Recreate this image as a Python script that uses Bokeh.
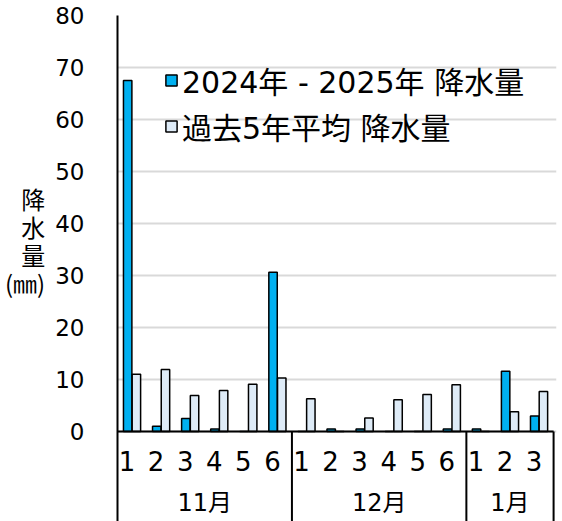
from bokeh.plotting import figure
from bokeh.models import Range1d, FixedTicker, Legend, LegendItem, ColumnDataSource
from bokeh.core.properties import value
from bokeh.transform import dodge
from bokeh.embed import file_html
from bokeh.resources import INLINE

# ---- data ----
months = ["11月", "12月", "1月"]
month_days = [6, 6, 3]
days = ["1", "2", "3", "4", "5", "6", "1", "2", "3", "4", "5", "6", "1", "2", "3"]
rain_2024 = [67.5, 1.0, 2.5, 0.5, 0.0, 30.6, 0.0, 0.5, 0.5, 0.0, 0.0, 0.5, 0.5, 11.6, 3.0]
avg_5yr = [11.0, 11.9, 6.9, 7.9, 9.1, 10.3, 6.3, 0.0, 2.6, 6.1, 7.1, 9.0, 0.0, 3.8, 7.7]
y_ticks = [0, 10, 20, 30, 40, 50, 60, 70, 80]
series_names = ["2024年 - 2025年 降水量", "過去5年平均 降水量"]
y_title = "降\n水\n量\n(㎜)\n \n "

CJK = "Noto Sans CJK JP"
FONT = "DejaVu Sans, Noto Sans CJK JP"
BLUE = "#00B0F0"
LIGHT = "#DEEBF7"

n = len(days)
xs = [i + 0.5 for i in range(n)]
src = ColumnDataSource(dict(x=xs, rain=rain_2024, avg=avg_5yr))

y_top = 80
y_bottom = -17.31

p = figure(width=562, height=521, output_backend="svg", toolbar_location=None,
           x_range=Range1d(0, n + 0.1), y_range=Range1d(y_bottom, y_top),
           x_axis_location=None,
           min_border_left=117, min_border_right=6, min_border_top=15, min_border_bottom=0)
p.outline_line_color = None
p.background_fill_color = "white"
p.border_fill_color = "white"
p.xgrid.grid_line_color = None

p.yaxis.ticker = FixedTicker(ticks=y_ticks)
p.ygrid.ticker = FixedTicker(ticks=y_ticks)
p.ygrid.grid_line_color = "#D9D9D9"
p.ygrid.grid_line_width = 2
p.yaxis.axis_line_color = "black"
p.yaxis.axis_line_width = 2
p.yaxis.major_tick_line_color = None
p.yaxis.minor_tick_line_color = None
p.yaxis.major_label_text_font = FONT
p.yaxis.major_label_text_font_size = "23px"
p.yaxis.major_label_text_color = "black"
p.yaxis.major_label_standoff = 27
p.yaxis.axis_label = y_title
p.yaxis.axis_label_orientation = "horizontal"
p.yaxis.axis_label_text_font = CJK
p.yaxis.axis_label_text_font_style = "normal"
p.yaxis.axis_label_text_font_size = "24px"
p.yaxis.axis_label_text_line_height = 0.8
p.yaxis.axis_label_text_color = "black"
p.yaxis.axis_label_standoff = 7

r1 = p.vbar(x=dodge("x", -0.15, range=p.x_range), top="rain", bottom=0, width=0.29, source=src,
            fill_color=BLUE, line_color="black", line_width=1.5)
r2 = p.vbar(x=dodge("x", 0.15, range=p.x_range), top="avg", bottom=0, width=0.29, source=src,
            fill_color=LIGHT, line_color="black", line_width=1.5)

# baseline and month separators
p.segment(x0=[0], y0=[0], x1=[n], y1=[0], line_color="black", line_width=2)
seps = []
acc = 0
centers = []
for d in month_days:
    centers.append(acc + d / 2)
    acc += d
    seps.append(acc)
p.segment(x0=seps, y0=[0] * len(seps), x1=seps, y1=[y_bottom] * len(seps),
          line_color="black", line_width=2)

p.text(x=xs, y=[-5.6] * n, text=days, text_align="center", text_baseline="middle",
       x_offset=-5, text_font=value(FONT), text_font_size="26px", text_color="black")
p.text(x=centers, y=[-13.8] * len(centers), text=months, text_align="center",
       text_baseline="middle", text_font=value(FONT), text_font_size="24px", text_color="black")

legend = Legend(items=[LegendItem(label=series_names[0], renderers=[r1]),
                       LegendItem(label=series_names[1], renderers=[r2])],
                location=(47, 373))
legend.label_text_font = FONT
legend.label_text_font_size = "30px"
legend.label_text_color = "black"
legend.glyph_width = 14
legend.glyph_height = 14
legend.label_standoff = 4
legend.label_height = 28
legend.spacing = 2
legend.padding = 0
legend.margin = 0
legend.border_line_color = None
legend.background_fill_alpha = 0
p.add_layout(legend)

open("out.html", "w").write(file_html(p, INLINE))
